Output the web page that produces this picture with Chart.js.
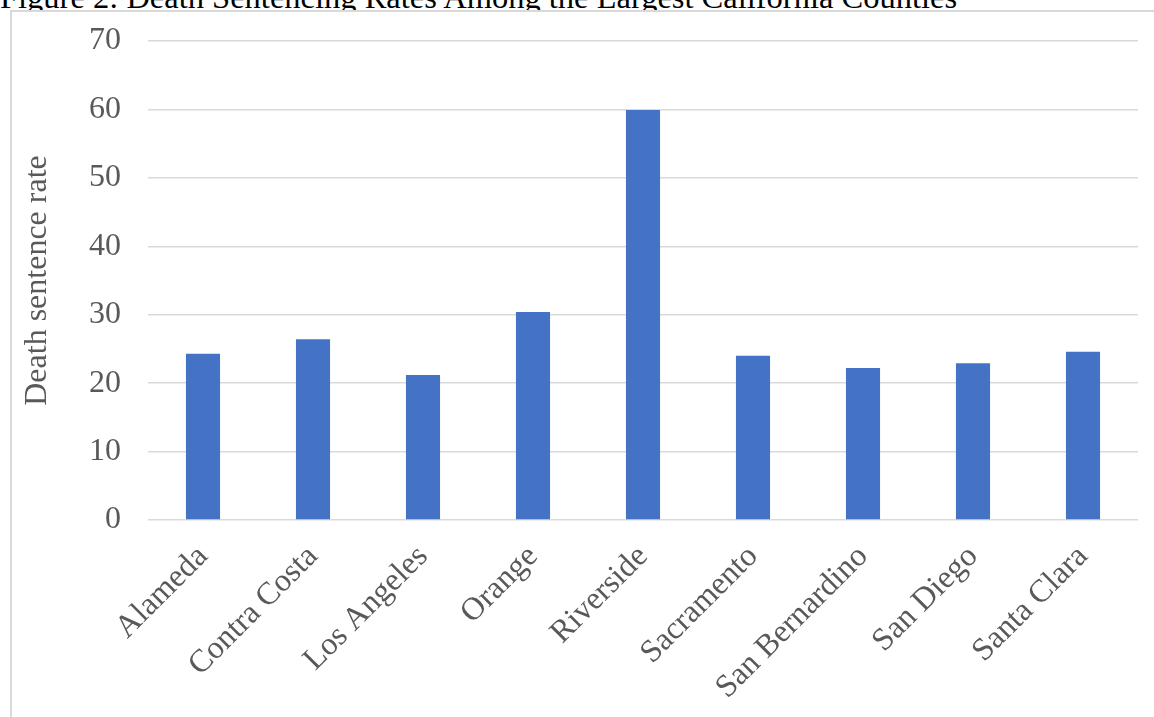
<!DOCTYPE html>
<html>
<head>
<meta charset="utf-8">
<script src="https://cdn.jsdelivr.net/npm/chart.js@4.4.0/dist/chart.umd.min.js"></script>
<style>
  html, body { margin: 0; padding: 0; background: #ffffff; overflow: hidden; }
  #wrap { position: relative; width: 1154px; height: 717px; }
  #title { position: absolute; left: 0px; top: -19px; font-family: "Liberation Serif", "Times New Roman", serif; font-size: 32.5px; line-height: 32px; color: #000000; white-space: nowrap; z-index: 0; }
  #frame { position: absolute; left: 10px; top: 10px; width: 2000px; height: 2000px; border: 2px solid #d9d9d9; box-sizing: border-box; background: #ffffff; z-index: 1; }
  canvas { position: absolute; left: 0; top: 0; z-index: 2; }
</style>
</head>
<body>
<div id="wrap">
  <div id="title">Figure 2: Death Sentencing Rates Among the Largest California Counties</div>
  <div id="frame"></div>
  <canvas id="c" width="1154" height="717"></canvas>
</div>
<script>
const counties = ["Alameda", "Contra Costa", "Los Angeles", "Orange", "Riverside", "Sacramento", "San Bernardino", "San Diego", "Santa Clara"];
const deathSentenceRate = [24.3, 26.4, 21.2, 30.4, 59.9, 24.0, 22.2, 22.9, 24.6];
const yTicks = [0, 10, 20, 30, 40, 50, 60, 70];
const yAxisTitle = "Death sentence rate";

const serif = '"Liberation Serif", "Times New Roman", serif';

new Chart(document.getElementById('c'), {
  type: 'bar',
  data: {
    labels: counties,
    datasets: [{
      data: deathSentenceRate,
      backgroundColor: '#4472C4',
      borderWidth: 0,
      categoryPercentage: 1.0,
      barPercentage: 0.31
    }]
  },
  options: {
    responsive: false,
    animation: false,
    events: [],
    layout: { padding: { left: 0, right: 16, top: 41, bottom: 0 } },
    plugins: { legend: { display: false }, tooltip: { enabled: false }, title: { display: false } },
    scales: {
      x: {
        grid: { display: false, drawTicks: false },
        border: { display: false },
        ticks: {
          color: '#595959',
          font: { family: serif, size: 32 },
          maxRotation: 45,
          minRotation: 45,
          autoSkip: false,
          padding: 18
        },
        afterFit: (s) => { s.height = 197; s.paddingTop = 0; s.paddingBottom = 0; }
      },
      y: {
        min: 0,
        max: 70,
        afterBuildTicks: (s) => { s.ticks = yTicks.map(v => ({ value: v })); },
        grid: { color: '#d9d9d9', lineWidth: 1.5, drawTicks: false },
        border: { display: false },
        ticks: {
          color: '#595959',
          font: { family: serif, size: 32 },
          padding: 27
        },
        title: {
          display: true,
          text: yAxisTitle,
          color: '#595959',
          font: { family: serif, size: 32 },
          padding: { top: 18, bottom: 0 }
        },
        afterFit: (s) => { s.width = 148; s.paddingTop = 0; s.paddingBottom = 0; }
      }
    }
  }
});
</script>
</body>
</html>
